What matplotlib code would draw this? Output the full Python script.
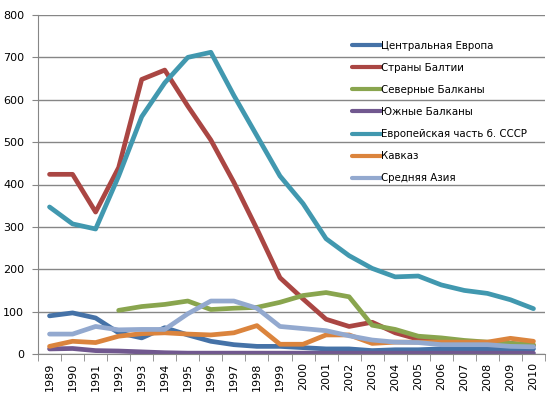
import numpy as np
import matplotlib
matplotlib.use("Agg")
from matplotlib import pyplot as plt

years = [str(y) for y in range(1989, 2011)]

central_europe = [90, 97, 85, 50, 38, 62, 45, 30, 22, 18, 18, 15, 12, 12, 8, 10, 10, 12, 12, 12, 12, 12]
baltic = [424, 424, 335, 440, 648, 670, 585, 505, 405, 295, 180, 130, 82, 65, 75, 50, 35, 30, 22, 25, 25, 20]
north_balkans = [None, None, None, 103, 112, 117, 125, 105, 108, 110, 122, 138, 145, 135, 68, 58, 42, 38, 32, 28, 25, 22]
south_balkans = [12, 13, 8, 7, 5, 3, 2, 2, 2, 2, 2, 2, 2, 2, 2, 2, 2, 2, 2, 2, 2, 2]
ussr_europe = [347, 307, 295, 420, 560, 640, 700, 712, 610, 515, 420, 355, 272, 232, 202, 182, 184, 163, 150, 143, 128, 107]
caucasus = [18, 30, 27, 42, 48, 50, 47, 45, 50, 67, 23, 23, 45, 45, 25, 28, 28, 28, 28, 28, 37, 30]
central_asia = [47, 47, 65, 57, 58, 58, 95, 125, 125, 108, 65, 60, 55, 43, 33, 28, 27, 22, 22, 22, 18, 17]

series = [
    ("Центральная Европа", central_europe, "#4572A7"),
    ("Страны Балтии", baltic, "#AA4643"),
    ("Северные Балканы", north_balkans, "#89A54E"),
    ("Южные Балканы", south_balkans, "#71588F"),
    ("Европейская часть б. СССР", ussr_europe, "#4198AF"),
    ("Кавказ", caucasus, "#DB843D"),
    ("Средняя Азия", central_asia, "#93A9CF"),
]

fig = plt.figure(figsize=(5.6, 3.96), dpi=100)
ax = fig.add_axes([38 / 560, 42 / 396, 507 / 560, 339 / 396])

x = np.arange(len(years))
for name, vals, col in series:
    v = np.array([np.nan if a is None else a for a in vals], dtype=float)
    ax.plot(x, v, color=col, lw=3.4, label=name, solid_capstyle="round", solid_joinstyle="round")

ax.set_xlim(-0.5, len(years) - 0.5)
ax.set_ylim(0, 800)
ax.set_yticks(range(0, 801, 100))
ax.yaxis.grid(True, color="#868686", lw=1)
ax.set_axisbelow(True)

ax.set_xticks(x)
ax.set_xticklabels(years, rotation=90, fontsize=8)
ax.set_xticks(np.arange(-0.5, len(years), 1), minor=True)
ax.tick_params(axis="x", which="major", length=0, pad=6)
ax.tick_params(axis="x", which="minor", length=5, color="#868686")
ax.tick_params(axis="y", length=4, color="#868686", labelsize=8, pad=6)

for s in ["top", "right"]:
    ax.spines[s].set_visible(False)
for s in ["left", "bottom"]:
    ax.spines[s].set_color("#868686")

# legend without frame, placed inside plot at upper right
leg = ax.legend(loc="upper left", bbox_to_anchor=(352 / 560, 355 / 396), bbox_transform=fig.transFigure,
                frameon=False, fontsize=7.4, handlelength=2.8, handletextpad=0.05, labelspacing=1.17,
                borderpad=0, borderaxespad=0)
for h in leg.get_lines():
    h.set_linewidth(3)

fig.savefig("out.png", dpi=100)
